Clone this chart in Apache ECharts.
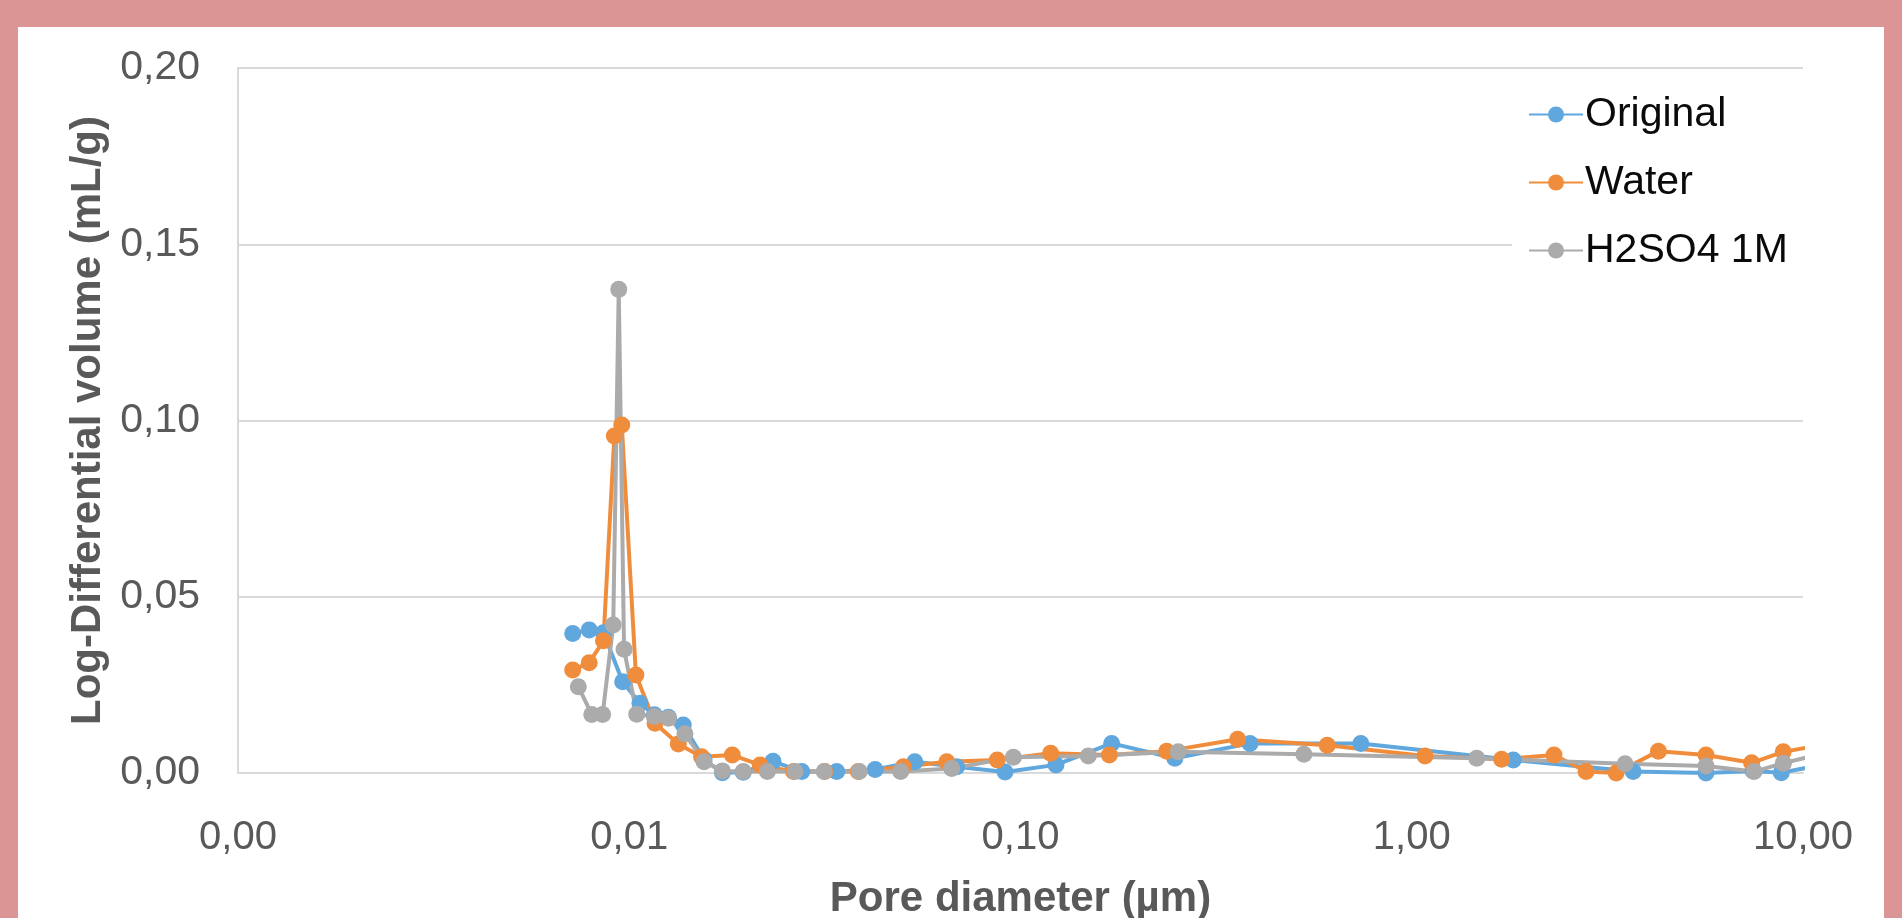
<!DOCTYPE html>
<html>
<head>
<meta charset="utf-8">
<script src="https://cdn.jsdelivr.net/npm/echarts@6/dist/echarts.min.js"></script>
<style>
    html, body { margin: 0; padding: 0; width: 1902px; height: 918px; background: #db9595; overflow: hidden; }
    #panel { position: absolute; left: 18px; top: 27px; width: 1866px; height: 891px; background: #ffffff; }
    #chart { position: absolute; left: 0; top: 0; width: 1902px; height: 918px; }
</style>
</head>
<body>
<div id="panel"></div>
<div id="chart"></div>
<script>
// pore diameter (µm) and log-differential volume (mL/g)
var originalX = [0.00717, 0.0079, 0.00859, 0.00962, 0.01065, 0.01159, 0.01259, 0.01374, 0.01553, 0.0173, 0.01956, 0.0233, 0.0276, 0.0339, 0.0425, 0.0537, 0.0687, 0.0913, 0.1232, 0.171, 0.248, 0.386, 0.741, 1.818, 3.68, 5.65, 7.45, 8.8, 11.7]
var originalY = [0.0396, 0.0406, 0.0398, 0.0259, 0.0198, 0.0165, 0.0158, 0.0136, 0.0038, 0.0001, 0.0002, 0.0033, 0.0004, 0.0004, 0.0010, 0.0032, 0.0018, 0.0003, 0.0023, 0.0084, 0.0042, 0.0084, 0.0084, 0.0037, 0.0004, 0.0000, 0.0006, 0.0001, 0.0027]

var waterX = [0.00717, 0.0079, 0.00859, 0.00916, 0.00957, 0.0104, 0.01164, 0.01335, 0.0153, 0.01834, 0.0216, 0.0263, 0.0316, 0.0385, 0.0502, 0.0648, 0.0872, 0.1194, 0.1687, 0.2364, 0.359, 0.608, 1.081, 1.697, 2.31, 2.79, 3.33, 4.27, 5.65, 7.39, 8.9, 11.7]
var waterY = [0.0292, 0.0313, 0.0375, 0.0956, 0.0987, 0.0278, 0.0141, 0.0082, 0.0046, 0.0051, 0.0023, 0.0004, 0.0004, 0.0004, 0.0018, 0.0032, 0.0037, 0.0056, 0.0051, 0.0062, 0.0096, 0.0079, 0.0048, 0.0039, 0.0051, 0.0004, 0.0000, 0.0062, 0.0051, 0.0029, 0.0060, 0.0083]

var acidX = [0.00741, 0.00802, 0.00855, 0.0091, 0.0094, 0.0097, 0.01045, 0.01159, 0.01259, 0.01388, 0.01553, 0.0173, 0.01956, 0.02254, 0.02652, 0.0315, 0.0387, 0.0494, 0.0667, 0.0959, 0.149, 0.253, 0.530, 1.466, 3.51, 5.65, 7.5, 8.91, 11.7]
var acidY = [0.0245, 0.0166, 0.0166, 0.0420, 0.1372, 0.0351, 0.0167, 0.0160, 0.0155, 0.0111, 0.0032, 0.0006, 0.0004, 0.0004, 0.0004, 0.0004, 0.0004, 0.0004, 0.0013, 0.0045, 0.0048, 0.0060, 0.0053, 0.0042, 0.0026, 0.0020, 0.0004, 0.0028, 0.0060]

var seriesNames = ['Original', 'Water', 'H2SO4 1M']
var seriesColors = ['#60a7dd', '#f08d3d', '#ababab']

var xTicks = [0.001, 0.01, 0.1, 1, 10]
var yTicks = [0, 0.05, 0.1, 0.15, 0.2]

var font = '"Liberation Sans", Arial, sans-serif'

function pairs(xs, ys) {
    return xs.map(function (x, i) { return [x, ys[i]] })
}
function comma(v) {
    return v.toFixed(2).replace('.', ',')
}

var chart = echarts.init(document.getElementById('chart'))
var lists = [[originalX, originalY], [waterX, waterY], [acidX, acidY]]

var option = {
    backgroundColor: 'transparent',
    animation: false,
    grid: {
        left: 238,
        right: 99,
        top: 68,
        bottom: 145,
        containLabel: false,
        outerBoundsMode: 'none'
    },
    legend: {
        data: seriesNames,
        orient: 'vertical',
        left: 1512,
        top: 86,
        padding: [8, 20, 8, 16],
        backgroundColor: '#ffffff',
        itemWidth: 54,
        itemHeight: 20,
        itemGap: 27,
        textStyle: {
            fontFamily: font,
            fontSize: 41,
            color: '#0a0a0a',
            lineHeight: 40,
            padding: [0, 0, 0, -3]
        }
    },
    xAxis: {
        type: 'log',
        logBase: 10,
        min: xTicks[0],
        max: xTicks[xTicks.length - 1],
        name: 'Pore diameter (µm)',
        nameLocation: 'middle',
        nameGap: 105,
        nameTextStyle: { fontFamily: font, fontSize: 42, fontWeight: 'bold', color: '#595959' },
        axisLine: { show: true, lineStyle: { color: '#d9d9d9', width: 2 } },
        axisTick: { show: false },
        splitLine: { show: false },
        minorTick: { show: false },
        axisLabel: {
            fontFamily: font,
            fontSize: 40,
            color: '#595959',
            margin: 45,
            formatter: function (v) { return comma(v) }
        }
    },
    yAxis: {
        type: 'value',
        min: yTicks[0],
        max: yTicks[yTicks.length - 1],
        interval: yTicks[1] - yTicks[0],
        name: 'Log-Differential volume (mL/g)',
        nameLocation: 'middle',
        nameGap: 105,
        nameTextStyle: { fontFamily: font, fontSize: 42, fontWeight: 'bold', color: '#595959' },
        axisLine: { show: true, lineStyle: { color: '#d9d9d9', width: 2 } },
        axisTick: { show: false },
        splitLine: { show: true, lineStyle: { color: '#d9d9d9', width: 2 } },
        axisLabel: {
            fontFamily: font,
            fontSize: 41,
            color: '#595959',
            margin: 38,
            formatter: function (v) { return comma(v) }
        }
    },
    series: lists.map(function (l, i) {
        return {
            name: seriesNames[i],
            type: 'line',
            data: pairs(l[0], l[1]),
            clip: true,
            symbol: 'circle',
            symbolSize: 17,
            showSymbol: true,
            color: seriesColors[i],
            lineStyle: { width: 4, color: seriesColors[i] },
            itemStyle: { color: seriesColors[i] }
        }
    })
}
chart.setOption(option)
</script>
</body>
</html>
